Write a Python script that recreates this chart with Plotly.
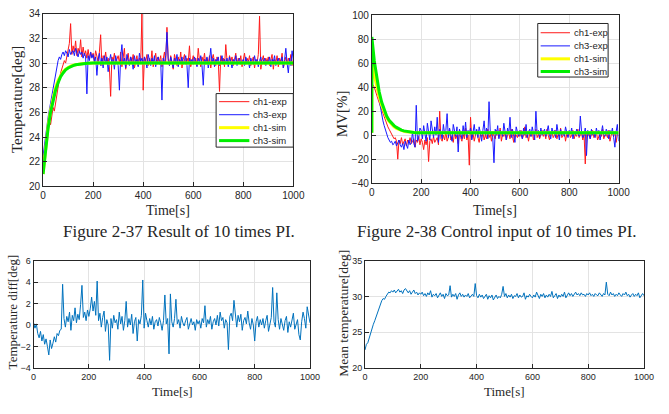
import plotly.graph_objects as go

# ---------------- data ----------------
t5 = list(range(0, 1001, 5))

temp_ch1_exp = [
    22.0, 22.9, 23.8, 24.5, 24.9, 25.3, 25.0, 25.8, 26.4, 26.1, 26.8, 27.6, 28.2, 28.7, 29.2, 29.5, 29.9, 30.2, 30.0, 30.6,
    31.0, 31.6, 33.2, 30.7, 31.4, 30.9, 31.8, 30.6, 31.2, 30.8, 31.9, 30.5, 31.3, 30.6, 31.0, 30.4, 31.1, 30.3, 30.9, 30.5,
    30.8, 30.2, 31.0, 30.4, 30.1, 30.9, 32.3, 29.8, 30.6, 30.2, 30.9, 30.0, 30.4, 29.6, 27.3, 30.5, 30.2, 30.8, 29.9, 30.3,
    30.6, 30.0, 30.9, 29.7, 30.4, 31.2, 29.5, 30.3, 30.8, 29.9, 30.5, 30.1, 30.7, 29.6, 30.2, 30.6, 29.8, 30.4, 30.0, 34.0,
    27.8, 30.5, 30.1, 30.7, 29.8, 30.4, 30.0, 31.0, 29.7, 30.3, 30.8, 29.9, 30.5, 30.1, 30.6, 29.7, 30.2, 30.9, 30.0, 32.9,
    30.4, 29.8, 30.6, 30.1, 29.5, 30.7, 30.2, 29.8, 30.5, 30.0, 30.9, 29.6, 30.3, 30.7, 29.9, 30.4, 30.1, 31.4, 29.7, 30.2,
    30.6, 30.0, 30.4, 29.8, 31.2, 30.2, 29.7, 30.5, 30.1, 30.8, 29.9, 30.4, 30.0, 30.6, 29.6, 30.3, 30.7, 30.1, 29.8, 30.5,
    30.2, 27.7, 30.6, 30.0, 30.4, 29.7, 31.5, 30.2, 29.9, 30.6, 30.1, 30.5, 29.8, 30.3, 30.8, 29.9, 30.4, 30.0, 30.6, 29.7,
    30.3, 30.8, 29.9, 30.4, 30.1, 30.6, 29.8, 30.2, 30.5, 29.6, 30.3, 30.0, 30.7, 33.8, 29.5, 30.2, 30.6, 29.9, 30.4, 30.1,
    30.5, 29.8, 30.2, 30.7, 29.5, 30.3, 30.0, 30.6, 29.7, 30.4, 30.1, 30.8, 29.6, 30.2, 30.5, 29.9, 30.4, 30.0, 30.7, 29.8, 30.3,
]

temp_ch3_exp = [
    22.5, 23.4, 24.3, 25.1, 25.6, 26.2, 26.8, 27.5, 28.1, 28.7, 29.3, 29.8, 30.2, 30.5, 30.3, 30.7, 30.9, 30.6, 31.0, 30.8,
    30.5, 31.1, 30.7, 30.9, 31.0, 30.6, 31.2, 30.8, 30.5, 31.0, 30.7, 30.9, 30.4, 30.8, 30.5, 27.5, 30.6, 30.2, 30.9, 30.4,
    30.7, 30.1, 30.5, 29.0, 30.3, 30.8, 29.8, 30.4, 29.6, 30.6, 30.0, 30.5, 29.3, 30.2, 30.7, 29.9, 30.3, 29.5, 30.6, 30.1,
    29.8, 27.8, 30.5, 31.5, 30.0, 30.4, 29.6, 30.7, 30.1, 29.8, 30.5, 30.2, 29.5, 30.6, 30.0, 30.3, 29.7, 30.8, 30.1, 30.4,
    29.9, 30.5, 30.2, 29.6, 30.7, 30.1, 29.8, 30.4, 30.0, 30.6, 29.7, 30.3, 30.5, 29.9, 30.2, 27.0, 30.4, 30.0, 30.6, 32.5,
    30.2, 29.8, 30.5, 30.1, 29.6, 30.4, 30.0, 30.7, 29.7, 30.3, 30.1, 30.5, 29.9, 30.2, 30.6, 29.8, 28.0, 30.4, 30.0, 30.3,
    29.9, 30.5, 30.1, 29.7, 30.4, 30.0, 30.6, 29.8, 28.2, 30.3, 30.1, 30.5, 29.6, 30.2, 31.2, 30.0, 30.4, 29.7, 30.3, 30.1,
    30.5, 29.8, 30.2, 30.6, 29.9, 30.3, 30.0, 30.4, 29.7, 30.5, 30.1, 29.6, 30.3, 30.0, 30.6, 29.8, 30.2, 30.4, 29.9, 30.1,
    30.3, 29.8, 30.5, 30.0, 30.2, 29.6, 30.4, 30.1, 29.9, 30.6, 30.0, 30.3, 29.7, 30.2, 30.5, 29.9, 30.1, 30.4, 29.8, 30.2,
    30.0, 30.5, 29.7, 30.3, 30.1, 30.6, 29.8, 30.2, 30.4, 29.9, 30.1, 30.5, 29.6, 30.3, 31.2, 30.0, 29.2, 30.4, 29.8, 31.0, 30.2,
]

t_sim = [0, 10, 20, 30, 40, 50, 60, 70, 80, 90, 100, 110, 120, 130, 140, 150, 160, 170, 180, 200, 1000]
temp_ch1_sim = [21.0, 23.1, 24.9, 26.2, 27.2, 28.0, 28.6, 29.0, 29.3, 29.5, 29.65, 29.75, 29.82, 29.87, 29.91, 29.94, 29.96, 29.97, 29.98, 30.0, 30.0]
temp_ch3_sim = [21.0, 23.0, 24.7, 26.0, 27.0, 27.8, 28.4, 28.9, 29.2, 29.45, 29.6, 29.72, 29.8, 29.86, 29.9, 29.93, 29.95, 29.97, 29.98, 30.0, 30.0]

mv_ch1_exp = [
    38, 42, 40, 36, 33, 30, 27, 24, 21, 18, 15, 12, 10, 7, 5, 3, 1, -1, -3, -2,
    -5, -20, -4, -7, -2, -8, -5, -3, -9, -4, -6, -2, -7, -5, -3, -10, -4, -6, -1, -8,
    -3, -6, -12, -4, -8, -2, -22, -5, -3, -7, -1, -6, -4, -2, -8, 20, -3, -5, 0, -4,
    3, -5, -2, 5, -4, -1, -6, 2, -3, 0, -7, 4, -2, -5, 1, -3, 6, -4, 0, -25,
    15, -3, 2, -5, 0, 4, -2, -6, 1, -1, 3, -4, 0, -3, 5, -2, 1, -5, 2, -1,
    -3, 4, 0, -2, 6, -5, 1, -1, 3, -4, 0, 2, -3, 5, -1, -6, 2, 0, -2, 3,
    -1, 4, -3, 0, 7, -2, 1, -5, 2, -1, 3, -4, 0, 5, -2, 1, -3, 0, 4, -1,
    2, -3, 5, 0, -4, 1, 3, -2, 0, 4, -3, 1, -1, 6, -2, 0, 3, -5, 1, -1,
    3, -2, 0, 4, -3, 1, -1, 5, -2, 0, 2, -4, 1, -24, 3, -1, 2, -3, 0, 4,
    -2, 1, 3, -4, 0, 2, -1, 5, -3, 0, 1, -2, 4, -5, 0, 2, -1, 3, -6, 1, 0,
]

mv_ch3_exp = [
    55, 58, 52, 46, 40, 34, 28, 22, 17, 12, 8, 4, 1, -2, -4, -6, -5, -8, -7, -5,
    -9, -6, -4, -8, -10, -7, -12, -5, -9, -11, -4, -8, -6, 3, -7, -10, 25, -5, -2, 6,
    4, -3, 8, 2, -5, 10, 1, -4, 12, 3, -2, 7, 0, 15, -6, 5, 2, -3, 9, 1,
    4, 18, -2, 6, 1, -5, 9, 3, -1, 7, -14, 5, 2, -3, 8, 0, 11, -2, 4, 1,
    6, -4, 3, 9, 0, 5, -2, 7, 2, -5, 4, 12, 0, 6, -3, 28, 3, 1, -2, -23,
    5, 0, 8, -3, 4, 2, -1, 10, 3, -4, 6, 1, 15, -2, 5, 0, -6, 7, 2, -1,
    4, 1, -3, 6, 0, 9, -2, 3, 5, -1, 7, 2, -4, 20, 1, 4, -2, 6, 0, 3,
    5, -1, 3, 8, 0, -3, 6, 2, 4, -2, 9, 1, -4, 5, 0, 3, -1, 7, 2, -2,
    4, 1, 6, -3, 3, 0, 5, 2, -1, 16, 3, -2, 0, 6, -17, 4, 1, -3, 5, 0,
    3, -2, 6, 1, 4, -4, 2, 8, 0, -1, 5, 3, -3, 4, 1, 6, -2, -10, 3, 9, -5,
]

t_mv_sim = [0, 0, 10, 20, 30, 40, 50, 60, 70, 80, 90, 100, 110, 120, 130, 140, 150, 160, 170, 180, 200, 1000]
mv_ch1_sim = [2, 60, 50, 40, 32, 25, 19.5, 15, 11.5, 9, 7, 5.6, 4.6, 3.8, 3.2, 2.8, 2.5, 2.3, 2.2, 2.1, 2.0, 2.0]
mv_ch3_sim = [2, 82, 62, 47, 36, 27.5, 21, 16, 12.5, 10, 8, 6.5, 5.2, 4.3, 3.6, 3.1, 2.7, 2.4, 2.2, 2.1, 2.0, 2.0]

temp_diff = [
    0.2, -0.3, 0.1, -0.8, -1.2, -0.6, -1.5, -0.9, -1.8, -1.3, -2.0, -2.8, -1.4, -2.2, -1.7, -1.1, -1.6, -0.8, -1.0, -0.5,
    -0.4, 3.8, 0.6, -0.2, 0.8, 0.3, 1.2, -0.5, 0.9, 0.4, 1.6, 0.2, 1.0, 0.5, 1.9, 3.7, 0.7, 1.2, 0.4, 1.4,
    0.8, 1.5, 2.6, 1.3, 2.2, 0.9, 4.1, 0.4, 1.1, -0.2, 0.7, 1.3, -0.6, 0.5, 0.0, -3.3, 0.6, -0.3, 0.9, 0.2,
    0.5, -0.4, 1.2, 0.1, 0.8, -0.5, 0.4, 2.2, -0.2, 0.6, 0.0, 1.0, -0.8, 0.3, 0.7, -1.5, 0.5, 0.1, 0.9, 4.2,
    -0.3, 1.1, 0.4, -0.2, 0.6, 0.0, 0.8, -0.4, 0.3, 0.5, -0.1, 0.7, 0.2, -0.5, 0.4, 2.8, 0.1, 0.6, -2.7, 2.9,
    0.3, -0.2, 0.6, 2.4, 0.1, 0.5, -0.3, 0.8, 0.2, -0.1, 0.4, 0.7, -0.4, 0.2, 0.6, 0.0, 0.3, -0.5, 0.5, 0.1,
    0.4, -0.3, 0.6, 0.2, 1.8, -0.2, 0.5, 0.1, 0.8, -0.4, 0.3, 0.6, 0.0, 0.9, -0.1, 1.2, 0.4, 0.7, -0.3, 0.5,
    0.2, -2.3, 0.8, 1.1, 0.4, 2.3, 0.6, -0.2, 0.9, 0.3, 1.0, -0.5, 0.4, 0.7, 0.1, 1.3, 0.2, -0.4, 0.6, 0.0,
    -1.5, 0.3, 0.8, -0.2, 0.5, 0.0, 0.6, -0.3, 0.4, 0.9, -0.6, 0.2, 0.7, 3.5, 0.3, -0.2, 3.0, 0.5, -0.4, 0.6,
    0.1, -0.5, 0.4, 0.8, -0.7, 0.3, -0.2, 0.6, 1.1, -0.4, 0.2, 0.5, -0.9, -1.4, 0.3, 1.2, 0.6, -0.3, 1.7, 0.8, 0.2,
]

mean_temp = [
    22.5, 23.3, 23.5, 24.2, 25.0, 25.4, 26.1, 26.6, 27.2, 27.8, 28.4, 29.0, 29.4, 29.7, 29.6, 30.0, 30.3, 30.6, 30.5, 30.8,
    30.6, 30.9, 30.5, 30.7, 31.0, 30.6, 30.8, 30.4, 30.9, 31.1, 30.7, 30.5, 30.8, 30.3, 30.6, 30.9, 30.4, 30.6, 30.2, 30.5,
    30.3, 30.6, 30.1, 30.4, 30.0, 30.5, 30.2, 30.8, 29.9, 30.3, 30.1, 30.4, 29.8, 30.2, 30.5, 30.0, 30.3, 29.7, 30.4, 30.1,
    30.2, 31.5, 29.9, 30.3, 30.0, 30.4, 29.6, 30.2, 30.5, 30.0, 30.3, 29.9, 30.2, 30.0, 30.4, 29.8, 30.1, 30.3, 30.0, 31.8,
    30.1, 29.8, 30.3, 29.9, 30.2, 29.7, 30.0, 30.3, 29.6, 30.1, 29.8, 30.2, 29.5, 29.9, 30.2, 29.7, 30.0, 29.8, 30.3, 31.4,
    30.0, 30.4, 29.8, 30.2, 29.9, 30.3, 29.7, 30.1, 30.0, 30.4, 29.8, 30.2, 29.9, 30.0, 30.5, 29.6, 30.1, 29.9, 30.3, 30.0,
    29.8, 30.2, 29.9, 30.6, 30.1, 29.7, 30.3, 30.0, 30.4, 29.8, 30.2, 29.9, 30.3, 30.0, 30.7, 29.8, 30.1, 30.4, 29.7, 30.2,
    29.9, 30.3, 30.0, 30.6, 29.8, 30.2, 30.5, 30.1, 30.4, 30.0, 30.3, 30.6, 30.2, 30.4, 30.1, 30.5, 30.2, 30.3, 30.0, 30.4,
    30.2, 30.5, 30.1, 30.3, 30.0, 30.4, 30.2, 30.1, 30.5, 30.3, 30.0, 30.4, 30.2, 32.0, 30.3, 30.1, 30.6, 30.2, 30.4, 30.0,
    30.3, 30.1, 30.5, 30.2, 30.0, 30.4, 30.2, 30.6, 30.1, 30.3, 29.9, 30.2, 30.4, 30.0, 30.3, 30.1, 30.5, 29.8, 30.2, 30.4, 30.1,
]

for name, arr in [("temp_ch1_exp", temp_ch1_exp), ("temp_ch3_exp", temp_ch3_exp), ("mv_ch1_exp", mv_ch1_exp),
                  ("mv_ch3_exp", mv_ch3_exp), ("temp_diff", temp_diff), ("mean_temp", mean_temp)]:
    assert len(arr) == len(t5), (name, len(arr))

series_names = ["ch1-exp", "ch3-exp", "ch1-sim", "ch3-sim"]
x_ticks = [0, 200, 400, 600, 800, 1000]
temp_ticks = [20, 22, 24, 26, 28, 30, 32, 34]
mv_ticks = [-40, -20, 0, 20, 40, 60, 80, 100]
diff_ticks = [-4, -2, 0, 2, 4, 6]
mean_ticks = [20, 25, 30, 35]

# ---------------- figure ----------------
W, H = 669, 414
RED, BLUE, YEL, GRN, MBLUE = "#ff1a1a", "#1a1aff", "#ffff00", "#00ee00", "#0072bd"
COLORS = [RED, BLUE, YEL, GRN]
WIDTHS = [1, 1, 3, 3]

fig = go.Figure()

def add(x, y, xa, ya, color, width, name=None):
    fig.add_trace(go.Scatter(
        x=x, y=y, mode="lines", xaxis=xa, yaxis=ya,
        line=dict(color=color, width=width), name=name, showlegend=False,
    ))

add(t5, temp_ch1_exp, "x", "y", RED, 1, series_names[0])
add(t5, temp_ch3_exp, "x", "y", BLUE, 1, series_names[1])
add(t_sim, temp_ch1_sim, "x", "y", YEL, 3, series_names[2])
add(t_sim, temp_ch3_sim, "x", "y", GRN, 3, series_names[3])

add(t5, mv_ch1_exp, "x2", "y2", RED, 1, series_names[0])
add(t5, mv_ch3_exp, "x2", "y2", BLUE, 1, series_names[1])
add(t_mv_sim, mv_ch1_sim, "x2", "y2", YEL, 3, series_names[2])
add(t_mv_sim, mv_ch3_sim, "x2", "y2", GRN, 3, series_names[3])

add(t5, temp_diff, "x3", "y3", MBLUE, 1)
add(t5, mean_temp, "x4", "y4", MBLUE, 1)

def px_x(a, b):
    return [a / W, b / W]

def px_y(top, bottom):
    return [1 - bottom / H, 1 - top / H]

SANS = "Arial, Liberation Sans, sans-serif"
SERIF = "Liberation Serif, Times New Roman, serif"

def axis(domain, rng, ticks, anchor, fs=10):
    return dict(
        domain=domain, range=rng, tickvals=ticks, anchor=anchor,
        showline=True, linecolor="#262626", linewidth=1, mirror=True,
        ticks="inside", ticklen=4, tickcolor="#262626",
        showgrid=True, gridcolor="#e3e3e3", gridwidth=1, zeroline=False,
        tickfont=dict(family=SANS, size=fs, color="#262626"), fixedrange=True,
    )

fig.update_layout(
    width=W, height=H,
    margin=dict(l=0, r=0, t=0, b=0),
    paper_bgcolor="white", plot_bgcolor="white",
    showlegend=False,
    xaxis=axis(px_x(41, 297), [0, 1000], x_ticks, "y"),
    yaxis=axis(px_y(9, 186.3), [20, 34], temp_ticks, "x"),
    xaxis2=axis(px_x(377.3, 629.7), [0, 1000], x_ticks, "y2"),
    yaxis2=axis(px_y(10.7, 183), [-40, 100], mv_ticks, "x2"),
    xaxis3=axis(px_x(31.3, 314), [0, 1000], x_ticks, "y3", 9),
    yaxis3=axis(px_y(262.7, 372.7), [-4, 6], diff_ticks, "x3", 9),
    xaxis4=axis(px_x(370.3, 655.7), [0, 1000], x_ticks, "y4", 9),
    yaxis4=axis(px_y(262.7, 372.7), [20, 35], mean_ticks, "x4", 9),
)

# ----- MATLAB-style legend boxes -----
def legend_box(x0, y0, x1, y1, line_x0, line_x1, text_x, rows):
    fig.add_shape(type="rect", xref="paper", yref="paper",
                  x0=x0 / W, x1=x1 / W, y0=1 - y1 / H, y1=1 - y0 / H,
                  line=dict(color="#262626", width=1), fillcolor="white", layer="above")
    for name, color, width, yy in zip(series_names, COLORS, WIDTHS, rows):
        fig.add_shape(type="line", xref="paper", yref="paper",
                      x0=line_x0 / W, x1=line_x1 / W, y0=1 - yy / H, y1=1 - yy / H,
                      line=dict(color=color, width=width), layer="above")
        fig.add_annotation(x=text_x / W, y=1 - yy / H, xref="paper", yref="paper",
                           text=name, showarrow=False, xanchor="left", yanchor="middle",
                           font=dict(family=SANS, size=9.5, color="#262626"))

legend_box(218, 91, 297, 146, 221, 252, 254, [99.3, 112.7, 126.0, 139.3])
legend_box(547, 19, 619, 74, 550, 580, 582, [28.5, 42.0, 55.3, 68.3])

def text(x, y, s, size, angle=0):
    fig.add_annotation(
        x=x / W, y=1 - y / H, xref="paper", yref="paper", text=s, showarrow=False,
        xanchor="center", yanchor="middle", textangle=angle,
        font=dict(family=SERIF, size=size, color="#262626"),
    )

text(15, 97, "Temperature[deg]", 15, -90)
text(169, 211, "Time[s]", 14)
text(347, 112, "MV[%]", 15, -90)
text(503, 211, "Time[s]", 14)
text(180, 233, "Figure 2-37 Result of 10 times PI.", 17)
text(505, 233, "Figure 2-38 Control input of 10 times PI.", 17)
text(10, 315, "Temperature diff[deg]", 13, -90)
text(173, 397, "Time[s]", 13)
text(348, 317, "Mean temperature[deg]", 13.5, -90)
text(513, 397, "Time[s]", 13)

fig.write_html("out.html")
